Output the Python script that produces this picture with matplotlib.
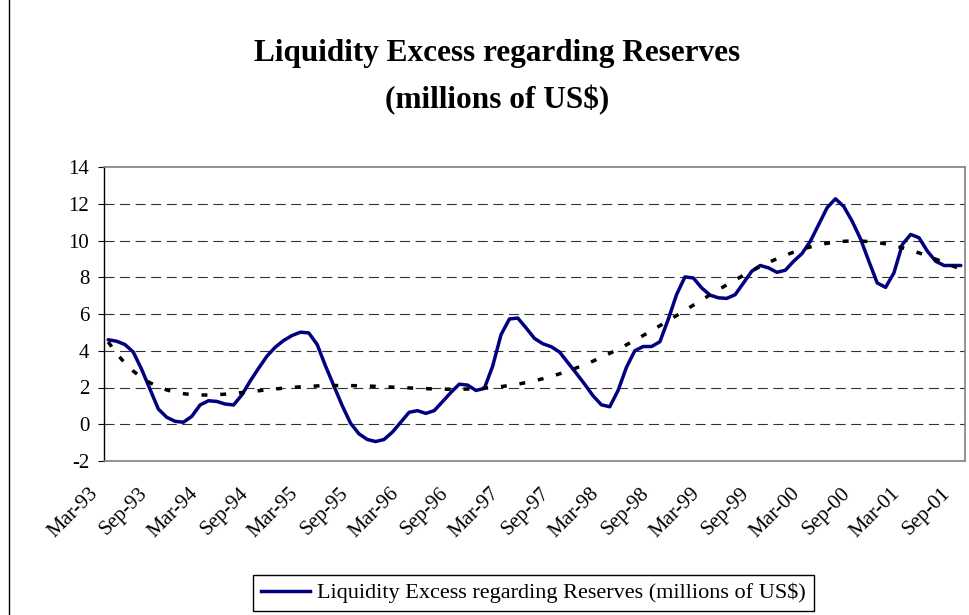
import numpy as np
import pandas as pd
import matplotlib
matplotlib.use("Agg")
import matplotlib.pyplot as plt
import matplotlib.transforms as mtransforms
from matplotlib.lines import Line2D

plt.rcParams["font.family"] = ["Liberation Serif", "DejaVu Serif"]
plt.rcParams["axes.unicode_minus"] = False

# monthly series, Mar-93 .. Sep-01 (millions of US$)
months = pd.date_range("1993-03-01", periods=103, freq="MS").strftime("%b-%y").tolist()
liquidity_excess = [
    4.60, 4.52, 4.34, 3.93, 2.99, 1.91, 0.83, 0.38, 0.16, 0.11,
    0.43, 1.05, 1.28, 1.24, 1.10, 1.05, 1.60, 2.36, 3.05, 3.71,
    4.20, 4.56, 4.83, 5.01, 4.97, 4.34, 3.17, 2.09, 1.01, 0.05,
    -0.52, -0.83, -0.94, -0.83, -0.43, 0.11, 0.65, 0.74, 0.59, 0.74,
    1.23, 1.73, 2.18, 2.13, 1.84, 1.95, 3.17, 4.88, 5.73, 5.78,
    5.24, 4.67, 4.38, 4.22, 3.93, 3.35, 2.77, 2.18, 1.55, 1.06,
    0.95, 1.84, 3.10, 4.00, 4.23, 4.23, 4.49, 5.71, 7.06, 8.02,
    7.96, 7.42, 7.03, 6.88, 6.85, 7.05, 7.69, 8.33, 8.64, 8.51,
    8.27, 8.38, 8.87, 9.29, 9.96, 10.87, 11.78, 12.27, 11.85, 11.05,
    10.09, 8.87, 7.69, 7.45, 8.24, 9.78, 10.33, 10.15, 9.42, 8.87,
    8.64, 8.64, 8.64,
]
y_ticks = [-2, 0, 2, 4, 6, 8, 10, 12, 14]
series_name = "Liquidity Excess regarding Reserves (millions of US$)"

x = np.arange(len(liquidity_excess))
# 6th order polynomial trend of the series
trend = np.polynomial.Polynomial.fit(x, liquidity_excess, 6)(x)

W, H = 969, 615
fig = plt.figure(figsize=(W / 100, H / 100), dpi=100)
ax = fig.add_axes([104 / W, 1 - 461 / H, 861 / W, 294 / H])

ax.plot(x, liquidity_excess, color="#000080", lw=2.5, solid_capstyle="round",
        solid_joinstyle="round", zorder=3)
ax.plot(x, trend, color="black", lw=2.5, linestyle=(0, (1.7, 3.7)), zorder=4)

ax.set_xlim(-0.5, len(x) - 0.5)
ax.set_ylim(-2, 14)
ax.set_yticks(y_ticks)
ax.set_yticklabels([str(v) for v in y_ticks], fontsize=15)
for v in y_ticks[1:-1]:
    ax.axhline(v, color="#333333", lw=0.8, linestyle=(0, (9, 5)), zorder=1)

# category labels every six months, slanted below the axis
ax.set_xticks([])
label_shift = mtransforms.ScaledTranslation(-0.20, -0.23, fig.dpi_scale_trans)
for i in x[::6]:
    ax.text(i, 0, months[i], transform=ax.get_xaxis_transform() + label_shift,
            fontsize=15, rotation=45, ha="right", va="top", rotation_mode="anchor")
ax.tick_params(axis="y", length=4.5, width=0.8, direction="out", pad=6)

ax.spines["left"].set_color("black")
ax.spines["left"].set_linewidth(1)
for side in ("top", "right", "bottom"):
    ax.spines[side].set_color("#808080")
    ax.spines[side].set_linewidth(1.2)

fig.text(497 / W, 1 - 54 / H, "Liquidity Excess regarding Reserves", ha="center",
         va="center", fontsize=22.5, fontweight="bold")
fig.text(497 / W, 1 - 100 / H, "(millions of US$)", ha="center", va="center",
         fontsize=22.5, fontweight="bold")

handle = Line2D([], [], color="#000080", lw=2.5)
leg = fig.legend([handle], [series_name], loc="center",
                 bbox_to_anchor=(533.5 / W, 1 - 593 / H), fontsize=16,
                 fancybox=False, framealpha=1, edgecolor="black",
                 handlelength=2.2, handletextpad=0.35, borderpad=0.35,
                 borderaxespad=0)
leg.get_frame().set_linewidth(1)

# chart border on the left side
fig.add_artist(Line2D([9 / W, 9 / W], [0, 1], color="black", lw=1,
                      transform=fig.transFigure))

fig.savefig("out.png", dpi=100)
